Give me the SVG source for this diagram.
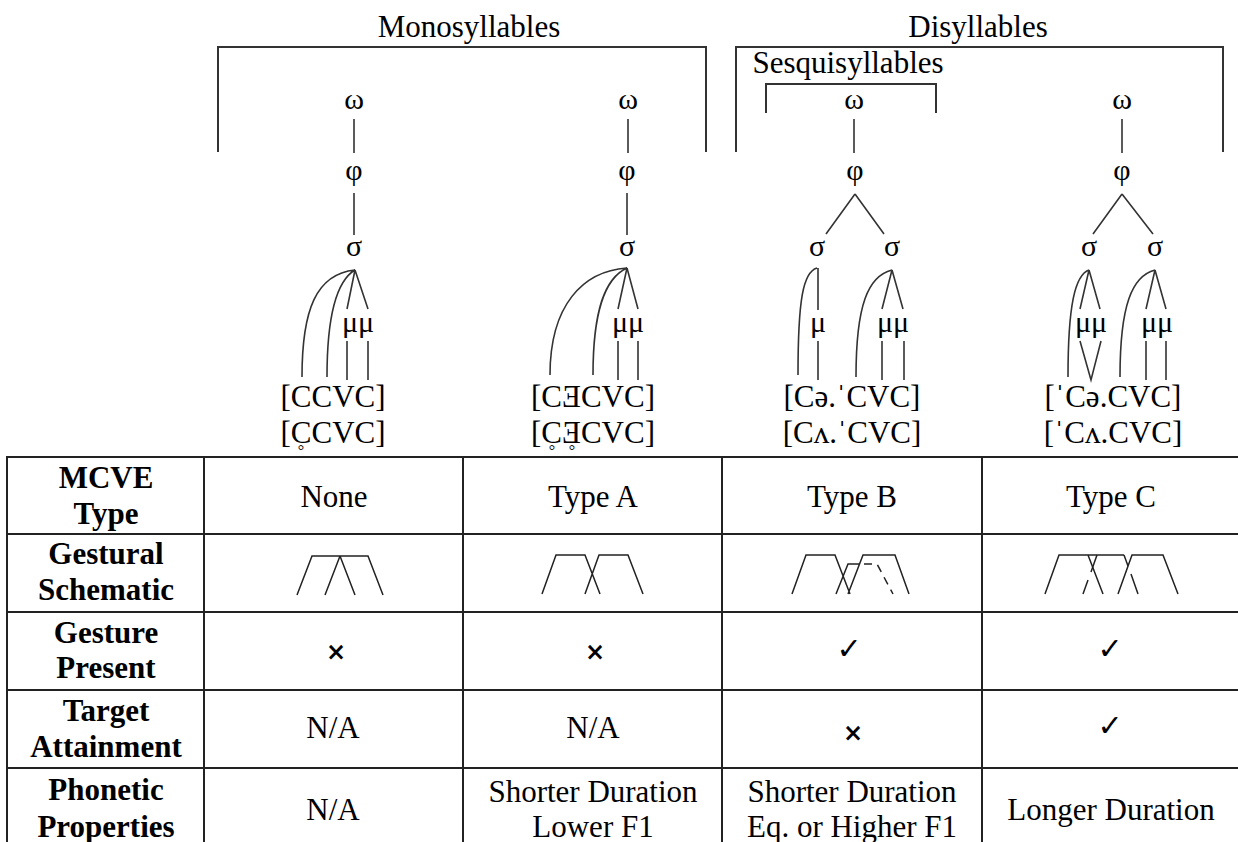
<svg xmlns="http://www.w3.org/2000/svg" width="1238" height="842" viewBox="0 0 1238 842">
<style>
.t{font-family:"Liberation Serif","Times New Roman",serif;font-size:31px;fill:#000;text-anchor:middle}
.b{font-weight:bold}
.g{font-family:"Liberation Serif","Times New Roman",serif;font-size:30px;fill:#000;text-anchor:middle}
.rg{font-family:"Liberation Serif","Times New Roman",serif;font-size:16px;fill:#000;text-anchor:middle}
.ln{stroke:#333;stroke-width:1.6;fill:none}
.br{stroke:#333;stroke-width:2;fill:none}
.tb{stroke:#222;stroke-width:2;fill:none}
.sc{stroke:#222;stroke-width:1.5;fill:none}
.ds{stroke:#222;stroke-width:1.5;fill:none;stroke-dasharray:8 6}
.sym{font-family:"DejaVu Sans",sans-serif;fill:#000;text-anchor:middle}
.ck{font-size:30px}
.xx{font-size:24px;font-weight:bold}
</style>
<rect width="1238" height="842" fill="#fff"/>

<g id="headers">
  <text class="t" x="469" y="37">Monosyllables</text>
  <path class="br" d="M218,152 V47 H706 V152"/>
  <text class="t" x="978" y="37">Disyllables</text>
  <path class="br" d="M736,152 V47 H1223 V152"/>
  <text class="t" x="848" y="73">Sesquisyllables</text>
  <path class="br" d="M766,113 V84 H936 V113"/>
</g>

<g id="tree-mono">
  <text class="g" x="354" y="109">ω</text>
  <text class="g" x="354" y="180">φ</text>
  <text class="g" x="354" y="256">σ</text>
  <text class="g" x="358" y="332">μμ</text>
  <text class="t" x="333" y="407">[CCVC]</text>
  <text class="t" x="333" y="443">[CCVC]</text>
  <text class="rg" x="301" y="456">°</text>
</g>
<g id="tree-typeA">
  <text class="g" x="628" y="109">ω</text>
  <text class="g" x="627" y="180">φ</text>
  <text class="g" x="627" y="256">σ</text>
  <text class="g" x="628" y="332">μμ</text>
  <text class="t" x="593" y="407">[CƎCVC]</text>
  <text class="t" x="593" y="443">[CƎCVC]</text>
  <text class="rg" x="552" y="456">°</text>
  <text class="rg" x="572" y="456">°</text>
</g>
<g id="tree-typeB">
  <text class="g" x="854" y="109">ω</text>
  <text class="g" x="855" y="180">φ</text>
  <text class="g" x="817" y="256">σ</text>
  <text class="g" x="892" y="256">σ</text>
  <text class="g" x="818" y="332">μ</text>
  <text class="g" x="893" y="332">μμ</text>
  <text class="t" x="852" y="407">[Cə.ˈCVC]</text>
  <text class="t" x="852" y="443">[Cʌ.ˈCVC]</text>
</g>
<g id="tree-typeC">
  <text class="g" x="1122" y="109">ω</text>
  <text class="g" x="1122" y="180">φ</text>
  <text class="g" x="1089" y="256">σ</text>
  <text class="g" x="1155" y="256">σ</text>
  <text class="g" x="1091" y="332">μμ</text>
  <text class="g" x="1157" y="332">μμ</text>
  <text class="t" x="1113" y="407">[ˈCə.CVC]</text>
  <text class="t" x="1113" y="443">[ˈCʌ.CVC]</text>
</g>

<g id="connectors">
  <path class="ln" d="M354,119 V153 M354,193 V235"/>
  <path class="ln" d="M355,270 C316,274 302,310 302,377 M355,270 C338,280 327,310 327,377 M355,270 L347,309 M355,270 L368,309 M347,341 V380 M368,341 V380"/>
  <path class="ln" d="M628,119 V153 M627,193 V235"/>
  <path class="ln" d="M627,268 C583,271 550,305 550,375 M627,268 C605,278 593,310 593,375 M627,268 L618,309 M627,268 L638,309 M618,341 V380 M638,341 V380"/>
  <path class="ln" d="M854,119 V153 M855,194 L826,234 M855,194 L884,234"/>
  <path class="ln" d="M817,268 C803,272 798,300 798,375 M818,268 V310 M818,341 V380"/>
  <path class="ln" d="M892,270 C868,276 856,305 856,377 M892,270 L882,309 M892,270 L903,309 M882,341 V380 M904,341 V380"/>
  <path class="ln" d="M1122,119 V153 M1122,194 L1093,234 M1122,194 L1153,234"/>
  <path class="ln" d="M1089,270 C1075,275 1068,305 1068,377 M1089,270 L1080,309 M1089,270 L1100,309 M1080,341 L1091,380 L1101,341"/>
  <path class="ln" d="M1155,270 C1132,276 1120,305 1120,377 M1155,270 L1146,309 M1155,270 L1166,309 M1146,341 V380 M1166,341 V380"/>
</g>

<g id="table">
  <path class="tb" d="M7,457 H1238 M7,534 H1238 M7,612 H1238 M7,690 H1238 M7,768 H1238"/>
  <path class="tb" d="M7,456 V842 M204,457 V842 M463,457 V842 M722,457 V842 M982,457 V842"/>

  <text class="t b" x="106" y="488">MCVE</text>
  <text class="t b" x="106" y="524">Type</text>
  <text class="t" x="334" y="507">None</text>
  <text class="t" x="593" y="507">Type A</text>
  <text class="t" x="852" y="507">Type B</text>
  <text class="t" x="1111" y="507">Type C</text>

  <text class="t b" x="106" y="564">Gestural</text>
  <text class="t b" x="106" y="600">Schematic</text>

  <text class="t b" x="106" y="643">Gesture</text>
  <text class="t b" x="106" y="678">Present</text>
  <text class="sym xx" x="336" y="660">×</text>
  <text class="sym xx" x="595" y="660">×</text>
  <text class="sym ck" x="849" y="659">✓</text>
  <text class="sym ck" x="1110" y="659">✓</text>

  <text class="t b" x="106" y="721">Target</text>
  <text class="t b" x="106" y="757">Attainment</text>
  <text class="t" x="333" y="738">N/A</text>
  <text class="t" x="593" y="738">N/A</text>
  <text class="sym xx" x="853" y="741">×</text>
  <text class="sym ck" x="1110" y="736">✓</text>

  <text class="t b" x="106" y="800">Phonetic</text>
  <text class="t b" x="106" y="837">Properties</text>
  <text class="t" x="333" y="820">N/A</text>
  <text class="t" x="593" y="802">Shorter Duration</text>
  <text class="t" x="593" y="837">Lower F1</text>
  <text class="t" x="852" y="802">Shorter Duration</text>
  <text class="t" x="852" y="837">Eq. or Higher F1</text>
  <text class="t" x="1111" y="820">Longer Duration</text>
</g>

<g id="schematics">
  <path class="sc" d="M297,595 L312,556 L340,556 L355,595 M325,595 L340,556 L368,556 L383,595"/>
  <path class="sc" d="M542,594 L556,555 L585,555 L600,594 M585,594 L599,555 L628,555 L643,594"/>
  <path class="sc" d="M792,594 L806,555 L835,555 L850,594 M848,594 L863,555 L895,555 L909,594 M836,594 L848,564 L860,564"/>
  <path class="ds" d="M864,564 L877,564 L893,594"/>
  <path class="sc" d="M1045,594 L1059,555 L1088,555 L1103,594 M1118,594 L1132,555 L1163,555 L1178,594 M1088,555 L1124,555"/>
  <path class="sc" d="M1083,594 L1088,580 M1091,572 L1097,555 M1124,555 L1128,566 M1131,574 L1138,594"/>
</g>
</svg>
